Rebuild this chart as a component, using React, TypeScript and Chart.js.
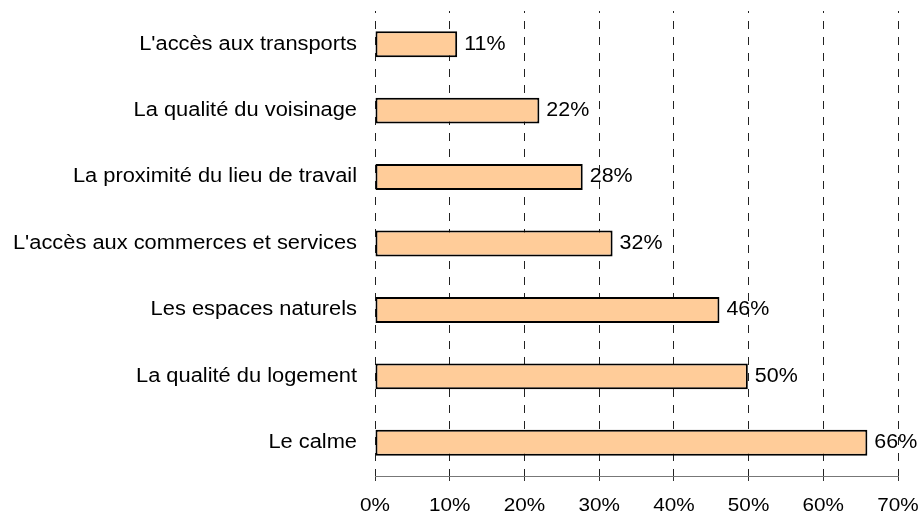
import React, { useEffect, useRef } from "react";
import { Chart, registerables } from "chart.js";

Chart.register(...registerables);

const categories = [
  "L'accès aux transports",
  "La qualité du voisinage",
  "La proximité du lieu de travail",
  "L'accès aux commerces et services",
  "Les espaces naturels",
  "La qualité du logement",
  "Le calme",
];
const values = [11, 22, 27.8, 31.8, 46.1, 49.9, 65.9];
const xTicks = [0, 10, 20, 30, 40, 50, 60, 70];

const FONT = "'Liberation Sans', Arial, sans-serif";

const textPlugin = {
  id: "customText",
  afterDraw(chart: any) {
    const ctx = chart.ctx;
    const xs = chart.scales.x;
    const ys = chart.scales.y;
    ctx.save();
    ctx.fillStyle = "#000";
    ctx.font = `19.5px ${FONT}`;
    ctx.textAlign = "right";
    ctx.textBaseline = "middle";
    categories.forEach((c, i) => {
      const y = ys.getPixelForTick(i);
      ctx.save();
      ctx.translate(357, y);
      ctx.scale(1.12, 1);
      ctx.fillText(c, 0, 0);
      ctx.restore();
    });
    ctx.font = `18px ${FONT}`;
    ctx.textAlign = "center";
    xs.ticks.forEach((t: any, i: number) => {
      const x = xs.getPixelForTick(i);
      ctx.save();
      ctx.translate(x, 506.5);
      ctx.scale(1.15, 1);
      ctx.fillText(t.value + "%", 0, 0);
      ctx.restore();
    });
    ctx.font = `19.5px ${FONT}`;
    ctx.textAlign = "left";
    const meta = chart.getDatasetMeta(0);
    meta.data.forEach((bar: any, i: number) => {
      ctx.save();
      ctx.translate(bar.x + 7, bar.y);
      ctx.scale(1.1, 1);
      ctx.fillText(Math.round(values[i]) + "%", 0, 0);
      ctx.restore();
    });
    ctx.restore();
  },
};

export default function App() {
  const ref = useRef<HTMLCanvasElement>(null);
  useEffect(() => {
    document.body.style.margin = "0";
    const chart = new Chart(ref.current as HTMLCanvasElement, {
      type: "bar",
      data: {
        labels: categories,
        datasets: [
          {
            data: values,
            backgroundColor: "#FFCC99",
            borderColor: "#000",
            borderWidth: 2,
            borderSkipped: false,
            barPercentage: 0.39,
            categoryPercentage: 1,
          },
        ],
      },
      options: {
        indexAxis: "y",
        animation: false,
        responsive: false,
        devicePixelRatio: 1,
        layout: { padding: { top: 11, right: 22, left: 0, bottom: 0 } },
        plugins: { legend: { display: false }, tooltip: { enabled: false } },
        scales: {
          x: {
            min: 0,
            max: 70,
            afterBuildTicks: (s: any) => {
              s.ticks = xTicks.map((v) => ({ value: v }));
            },
            afterFit: (s: any) => {
              s.height = 39;
            },
            ticks: { display: false },
            grid: {
              color: "#222",
              lineWidth: 1,
              drawTicks: true,
              tickLength: 5,
              tickColor: "#333",
              tickWidth: 1,
              tickBorderDash: [],
            },
            border: { display: true, color: "#777", width: 1, dash: [8, 8], dashOffset: 6 },
          },
          y: {
            afterFit: (s: any) => {
              s.width = 375;
            },
            ticks: { display: false },
            grid: { display: false, drawTicks: false },
            border: { display: false },
          },
        },
      },
      plugins: [textPlugin],
    });
    return () => chart.destroy();
  }, []);
  return (
    <div style={{ width: 920, height: 515 }}>
      <canvas ref={ref} width={920} height={515} />
    </div>
  );
}
